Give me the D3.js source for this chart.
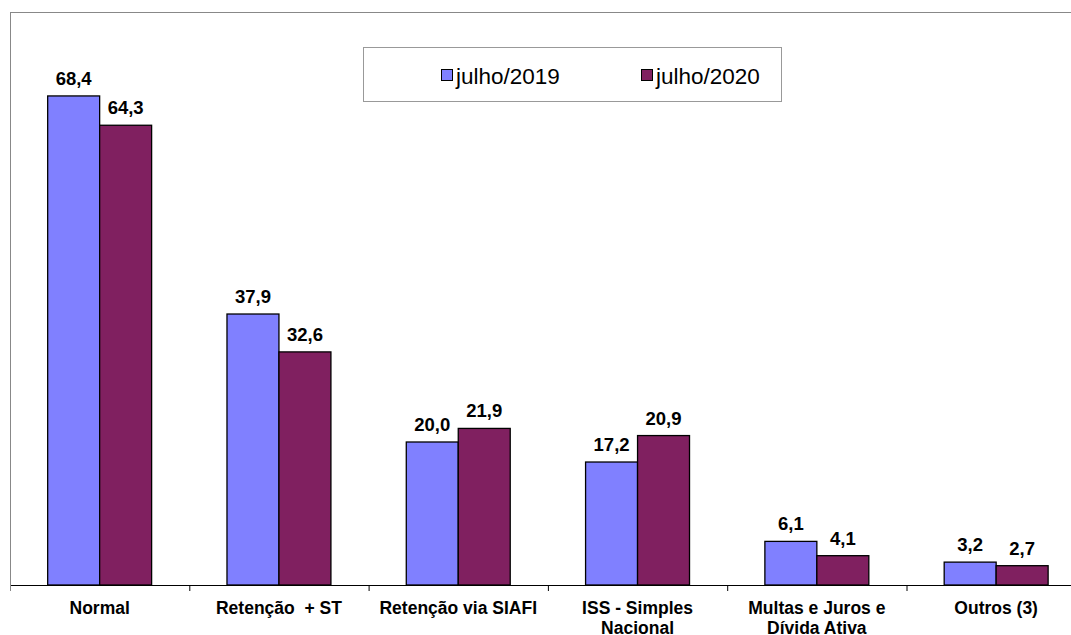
<!DOCTYPE html>
<html>
<head>
<meta charset="utf-8">
<script src="https://cdn.jsdelivr.net/npm/d3@7"></script>
<style>
  html, body { margin: 0; padding: 0; background: #fff; }
  svg { display: block; font-family: Arial, "Liberation Sans", sans-serif; }
  text { white-space: pre; }
</style>
</head>
<body>
<svg id="chart" width="1071" height="635"></svg>
<script>
const categories = ["Normal", "Retenção  + ST", "Retenção via SIAFI", "ISS - Simples\nNacional", "Multas e Juros e\nDívida Ativa", "Outros (3)"];
const seriesNames = ["julho/2019", "julho/2020"];
const values2019 = [68.4, 37.9, 20.0, 17.2, 6.1, 3.2];
const values2020 = [64.3, 32.6, 21.9, 20.9, 4.1, 2.7];
const yDomain = [0, 80];
const colors = ["#8080FF", "#802060"];

(function () {
const svg = d3.select("#chart");
const W = 1071;
const plotLeft = 10, plotTop = 13, baseY = 585;
const step = 179.3;

const x = d3.scaleBand().domain(categories).range([plotLeft, plotLeft + step * categories.length]).padding(0);
const xSub = d3.scaleBand().domain(seriesNames).range([0, x.bandwidth()]).paddingInner(0).paddingOuter(0.725);
const y = d3.scaleLinear().domain(yDomain).range([baseY, plotTop]);

const seriesValues = [values2019, values2020];
const rows = categories.map((c, i) => ({ cat: c, vals: seriesNames.map((s, j) => ({ s, j, v: seriesValues[j][i] })) }));

// chart frame: top border and left (value) axis line in gray
svg.append("line").attr("x1", plotLeft).attr("x2", W).attr("y1", 12.5).attr("y2", 12.5)
  .attr("stroke", "#888").attr("stroke-width", 1);
svg.append("line").attr("x1", plotLeft + 0.5).attr("x2", plotLeft + 0.5).attr("y1", 12).attr("y2", 591)
  .attr("stroke", "#888").attr("stroke-width", 1);

// bars
const g = svg.append("g");
const groups = g.selectAll("g.cat").data(rows).join("g")
  .attr("transform", d => `translate(${x(d.cat)},0)`);
groups.selectAll("rect").data(d => d.vals).join("rect")
  .attr("x", d => xSub(d.s))
  .attr("y", d => y(d.v))
  .attr("width", xSub.bandwidth())
  .attr("height", d => y(0) - y(d.v))
  .attr("fill", d => colors[d.j])
  .attr("stroke", "#000")
  .attr("stroke-width", 1.3);

// value labels
groups.selectAll("text.val").data(d => d.vals).join("text")
  .attr("class", "val")
  .attr("x", d => xSub(d.s) + xSub.bandwidth() / 2)
  .attr("y", d => y(d.v) - 11)
  .attr("text-anchor", "middle")
  .attr("font-weight", "bold")
  .attr("font-size", "18.5px")
  .attr("fill", "#000")
  .text(d => d3.format(".1f")(d.v).replace(".", ","));

// x axis baseline
svg.append("line").attr("x1", plotLeft).attr("x2", W).attr("y1", baseY + 0.5).attr("y2", baseY + 0.5)
  .attr("stroke", "#000").attr("stroke-width", 1.2);

// category tick marks (between categories)
svg.append("g").selectAll("line").data(categories).join("line")
  .attr("x1", d => x(d) + 0.5).attr("x2", d => x(d) + 0.5)
  .attr("y1", baseY).attr("y2", baseY + 6)
  .attr("stroke", d => d === categories[0] ? "#888" : "#000").attr("stroke-width", 1);

// category labels via axis
const xAxis = d3.axisBottom(x).tickSize(0).tickPadding(0);
const ax = svg.append("g").attr("transform", `translate(0,${baseY})`).call(xAxis);
ax.select(".domain").remove();
ax.selectAll(".tick text").each(function(d) {
  const t = d3.select(this);
  t.text(null).attr("font-size", "17.5px").attr("font-weight", "bold").attr("fill", "#000")
   .attr("font-family", "Arial, 'Liberation Sans', sans-serif").attr("dy", null).attr("y", 0)
   .style("white-space", "pre");
  d.split("\n").forEach((line, i) => {
    t.append("tspan").attr("x", 0).attr("y", 29 + i * 20).text(line);
  });
});

// legend
const legend = svg.append("g");
legend.append("rect").attr("x", 363.5).attr("y", 47.5).attr("width", 418).attr("height", 54)
  .attr("fill", "#fff").attr("stroke", "#999").attr("stroke-width", 1);
const legX = [441, 641];
seriesNames.forEach((s, i) => {
  legend.append("rect").attr("x", legX[i] + 0.5).attr("y", 69.5).attr("width", 11).attr("height", 11)
    .attr("fill", colors[i]).attr("stroke", "#000").attr("stroke-width", 1);
  legend.append("text").attr("x", legX[i] + 15).attr("y", 84)
    .attr("font-size", "22.5px").attr("fill", "#000").text(s);
});
})();
</script>
</body>
</html>
